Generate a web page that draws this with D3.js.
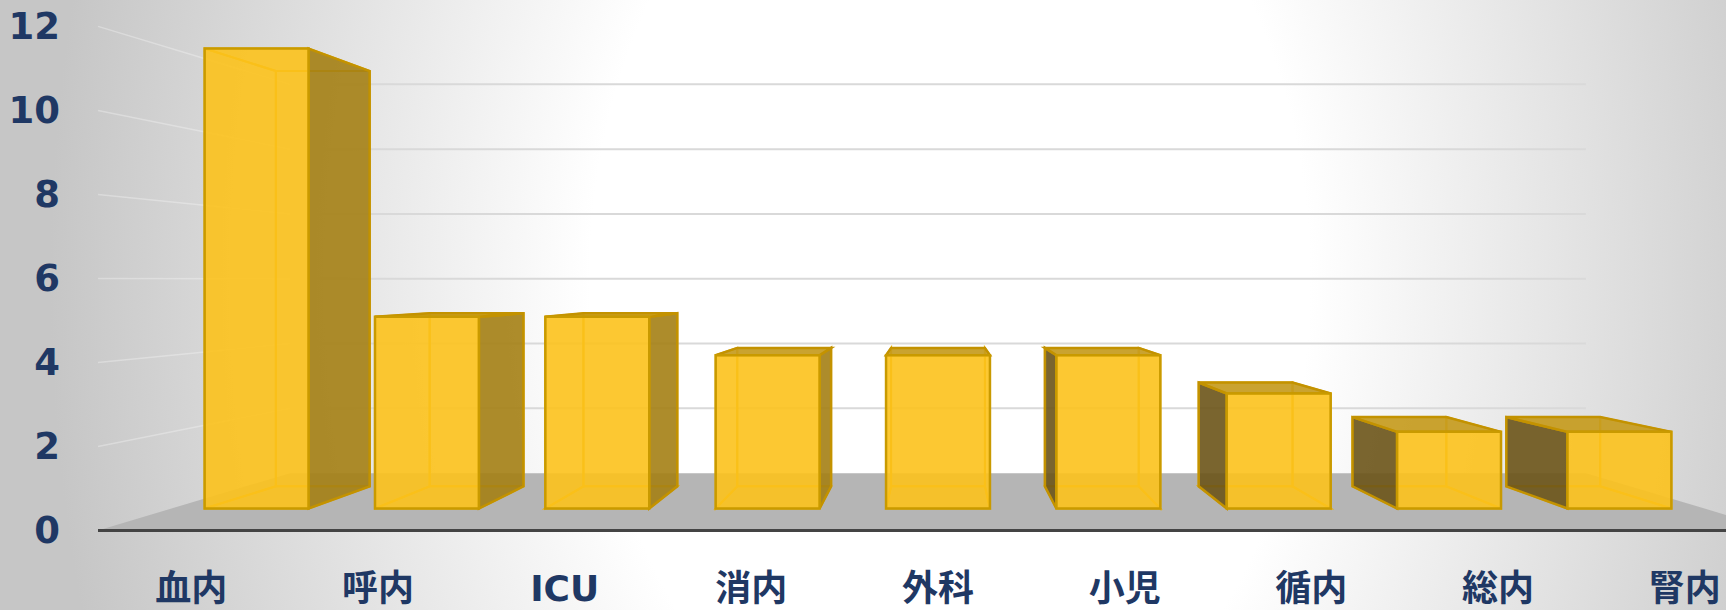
<!DOCTYPE html>
<html>
<head>
<meta charset="utf-8">
<script src="https://cdn.jsdelivr.net/npm/d3@7"></script>
<style>
  html, body { margin: 0; padding: 0; background: #fff; }
  svg { display: block; }
  .axis text { font-family: "DejaVu Sans", "Noto Sans CJK JP", sans-serif; font-weight: bold; fill: #1F3864; }
</style>
</head>
<body>
<div id="chart"></div>
<script>
// data
const categories = ['血内', '呼内', 'ICU', '消内', '外科', '小児', '循内', '総内', '腎内'];
const values = [12, 5, 5, 4, 4, 4, 3, 2, 2];
const yTicks = [0, 2, 4, 6, 8, 10, 12];

const width = 1726, height = 610;

// perspective: vanishing point + depth scale factors (front plane = 1)
const vp = { x: 938, y: 280 };
const depth = { barFront: 0.9126, barBack: 0.824, wall: 0.7714 };

// front-plane scales
const x = d3.scaleBand()
  .domain(categories)
  .range([98, 1778])
  .paddingInner(0.39)
  .paddingOuter(0.195);

const y = d3.scaleLinear()
  .domain([0, 12])
  .range([530.4, 26.4]);

const project = (px, py, s) => [vp.x + (px - vp.x) * s, vp.y + (py - vp.y) * s];
const poly = pts => 'M' + pts.map(p => p.join(',')).join('L') + 'Z';

const svg = d3.select('#chart')
  .append('svg')
  .attr('width', width)
  .attr('height', height);

// background
const defs = svg.append('defs');
const grad = defs.append('radialGradient')
  .attr('id', 'bg')
  .attr('gradientUnits', 'userSpaceOnUse')
  .attr('cx', 950).attr('cy', 280).attr('r', 900)
  .attr('gradientTransform', 'translate(950,280) scale(1,1.4) translate(-950,-280)');
grad.append('stop').attr('offset', 0).attr('stop-color', '#ffffff');
grad.append('stop').attr('offset', 0.4).attr('stop-color', '#ffffff');
grad.append('stop').attr('offset', 1).attr('stop-color', '#c6c6c6');

svg.append('rect')
  .attr('width', width)
  .attr('height', height)
  .attr('fill', 'url(#bg)');

const x0 = x.range()[0], x1 = x.range()[1];

// left wall gridlines
svg.append('g')
  .selectAll('line')
  .data(yTicks.filter(d => d > 0))
  .join('line')
  .attr('x1', x0).attr('y1', d => y(d))
  .attr('x2', d => project(x0, y(d), depth.wall)[0])
  .attr('y2', d => project(x0, y(d), depth.wall)[1])
  .attr('stroke', 'rgba(255,255,255,0.3)')
  .attr('stroke-width', 1.5);

// back wall gridlines
svg.append('g')
  .selectAll('line')
  .data(yTicks.filter(d => d > 0))
  .join('line')
  .attr('x1', d => project(x0, y(d), depth.wall)[0])
  .attr('y1', d => project(x0, y(d), depth.wall)[1])
  .attr('x2', d => project(x1, y(d), depth.wall)[0])
  .attr('y2', d => project(x1, y(d), depth.wall)[1])
  .attr('stroke', '#d9d9d9')
  .attr('stroke-width', 2);

// floor
const y0 = y(0);
svg.append('path')
  .attr('d', poly([
    [x0, y0], [x1, y0],
    project(x1, y0, depth.wall), project(x0, y0, depth.wall)
  ]))
  .attr('fill', '#b5b5b5');

svg.append('line')
  .attr('x1', x0).attr('x2', x1)
  .attr('y1', y0).attr('y2', y0)
  .attr('stroke', '#444')
  .attr('stroke-width', 3);

// bars
const bw = x.bandwidth();
const bars = svg.append('g');

categories.forEach((c, i) => {
  const l = x(c), r = l + bw, t = y(values[i]), b = y(0);
  const F = [[l, t], [r, t], [r, b], [l, b]].map(p => project(p[0], p[1], depth.barFront));
  const B = [[l, t], [r, t], [r, b], [l, b]].map(p => project(p[0], p[1], depth.barBack));
  const faces = {
    back: [B[0], B[1], B[2], B[3]],
    bottom: [F[3], F[2], B[2], B[3]],
    left: [F[0], B[0], B[3], F[3]],
    right: [F[1], B[1], B[2], F[2]],
    top: [F[0], F[1], B[1], B[0]],
    front: F
  };
  const showRight = r < vp.x;
  const showLeft = l > vp.x;
  const showTop = t > vp.y;

  const g = bars.append('g');
  // edges seen through the transparent bar
  const hidden = ['back', 'bottom'];
  if (!showLeft) hidden.push('left');
  if (!showRight) hidden.push('right');
  if (!showTop) hidden.push('top');
  hidden.forEach(k => {
    g.append('path')
      .attr('d', poly(faces[k]))
      .attr('fill', 'none')
      .attr('stroke', '#e8b000')
      .attr('stroke-width', 2);
  });

  if (showRight) {
    g.append('path').attr('d', poly(faces.right))
      .attr('fill', '#a47f14').attr('fill-opacity', 0.9)
      .attr('stroke', '#c39200').attr('stroke-width', 2.5);
  }
  if (showLeft) {
    g.append('path').attr('d', poly(faces.left))
      .attr('fill', '#6b5418').attr('fill-opacity', 0.9)
      .attr('stroke', '#c39200').attr('stroke-width', 2.5);
  }
  if (showTop) {
    g.append('path').attr('d', poly(faces.top))
      .attr('fill', '#c59b1e').attr('fill-opacity', 0.92)
      .attr('stroke', '#c39200').attr('stroke-width', 2.5);
  }
  g.append('path').attr('d', poly(faces.front))
    .attr('fill', '#fcc21c').attr('fill-opacity', 0.9)
    .attr('stroke', '#c99a00').attr('stroke-width', 2.5);
});

// axes
const yAxis = svg.append('g')
  .attr('class', 'axis')
  .attr('transform', `translate(${x0},0)`)
  .call(d3.axisLeft(y).tickValues(yTicks).tickSize(0).tickPadding(38));
yAxis.select('.domain').remove();
yAxis.selectAll('text').style('font-size', '37px');

const xAxis = svg.append('g')
  .attr('class', 'axis')
  .attr('transform', `translate(0,${y0})`)
  .call(d3.axisBottom(x).tickSize(0).tickPadding(45));
xAxis.select('.domain').remove();
xAxis.selectAll('text').style('font-size', '36px');
</script>
</body>
</html>
